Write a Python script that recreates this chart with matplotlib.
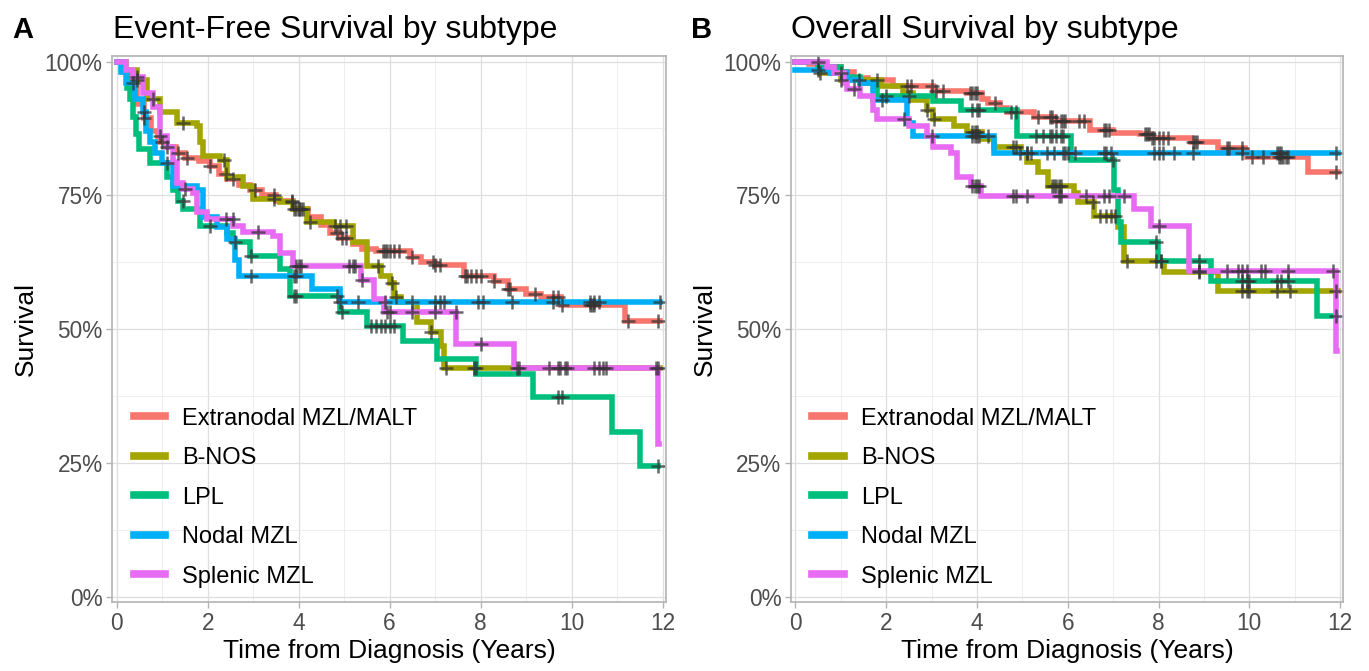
#!/usr/bin/env python3
"""
Kaplan-Meier style step curves: event-free and overall survival by subtype.
Values read off the reference figure (survival in %, time in years).
"""

import matplotlib
matplotlib.use('Agg')
import matplotlib.pyplot as plt
from matplotlib.ticker import MultipleLocator
import numpy as np

plt.rcParams['font.family'] = ['Liberation Sans', 'DejaVu Sans']

subtypes = ['Extranodal MZL/MALT', 'B-NOS', 'LPL', 'Nodal MZL', 'Splenic MZL']
colors = ['#F8766D', '#A3A500', '#00BF7D', '#00B0F6', '#E76BF3']

x_ticks = [0, 2, 4, 6, 8, 10, 12]
y_ticks = [0, 25, 50, 75, 100]
y_tick_labels = ['0%', '25%', '50%', '75%', '100%']

# ---- Event-free survival (panel A) ----
efs_extranodal_t = [0, 0.15, 0.3, 0.45, 0.6, 0.75, 0.9, 1.1, 1.3, 1.5, 1.8, 2.05, 2.25, 2.42, 2.7,
                    2.93, 3.2, 3.5, 3.88, 4.2, 4.5, 4.7, 4.92, 5.2, 5.4, 5.7, 6.45, 6.7, 7.0, 7.64,
                    8.3, 8.6, 9.0, 9.33, 9.77, 11.17, 11.95]
efs_extranodal_s = [100, 98, 95, 92, 89.5, 87, 85, 84, 83, 82, 81.5, 80.5, 79, 78, 77,
                    76, 75, 74, 72.5, 71, 69.5, 68, 67, 66, 65, 64.6, 63.5, 62.5, 62, 60,
                    59, 57.5, 56.5, 56, 54.5, 51.5, 51.5]
efs_extranodal_c = [0.6, 1.0, 1.35, 1.55, 2.05, 2.4, 2.55, 3.05, 3.45, 3.85, 3.95, 4.0, 4.05, 4.1,
                    4.85, 4.95, 5.05, 5.85, 5.9, 5.95, 6.0, 6.1, 6.2, 6.5, 6.95, 7.0, 7.1, 7.65,
                    7.7, 7.8, 7.9, 8.0, 8.3, 8.6, 8.65, 9.2, 9.6, 9.7, 9.8, 10.4, 10.45, 10.5,
                    11.25, 11.9]

efs_bnos_t = [0, 0.2, 0.44, 0.66, 0.95, 1.32, 1.76, 1.83, 1.9, 2.27, 2.42, 2.78, 3.0, 3.6, 3.88,
              4.19, 4.77, 5.2, 5.5, 5.8, 6.0, 6.1, 6.25, 6.6, 6.9, 7.13, 7.2, 11.95]
efs_bnos_s = [100, 98.5, 96.5, 93, 90.5, 88.6, 88, 85, 82.3, 81.7, 78.5, 76.7, 74.3, 73.7, 72.4,
              70, 69.2, 66.2, 61.8, 60, 58.7, 56, 55, 51.3, 49.4, 46.9, 42.7, 42.7]
efs_bnos_c = [0.45, 0.8, 1.45, 2.35, 3.45, 3.85, 3.9, 4.0, 4.25, 4.8, 4.9, 5.05, 5.75, 6.05,
              6.15, 6.5, 6.9, 7.25, 7.85, 7.9, 11.9]

efs_lpl_t = [0, 0.13, 0.22, 0.29, 0.35, 0.42, 0.5, 0.73, 1.1, 1.24, 1.35, 1.46, 1.83, 2.42, 2.56,
             2.93, 3.6, 3.82, 4.92, 5.5, 6.3, 7.05, 7.9, 9.15, 10.88, 11.5, 11.9]
efs_lpl_s = [100, 98.5, 95, 93, 89.7, 86.5, 83.6, 81, 78.5, 76, 74, 72.4, 69.2, 68, 66.2,
             63.6, 61.2, 56.2, 53.2, 50.5, 47.8, 44.4, 41.6, 37.3, 30.8, 24.5, 24.5]
efs_lpl_c = [1.45, 2.05, 2.6, 2.95, 3.9, 3.95, 4.85, 4.95, 5.6, 5.7, 5.8, 5.9, 6.0, 6.1,
             9.7, 9.8, 11.9]

efs_nodal_t = [0, 0.1, 0.2, 0.4, 0.57, 0.65, 0.73, 0.85, 1.0, 1.24, 1.76, 1.9, 2.2, 2.42, 2.6,
               2.7, 4.3, 4.9, 11.95]
efs_nodal_s = [100, 98, 96, 93, 90.5, 87, 85, 83, 81, 76.7, 76, 71, 69, 66.8, 63,
               60, 57.5, 55, 55]
efs_nodal_c = [0.35, 0.6, 1.1, 2.95, 3.9, 3.95, 4.9, 5.3, 5.9, 7.0, 7.1, 7.2, 7.95, 8.05,
               8.7, 9.6, 10.4, 10.5, 10.6, 11.95]

efs_splenic_t = [0, 0.2, 0.35, 0.57, 0.8, 0.95, 1.1, 1.24, 1.32, 1.46, 1.68, 1.76, 1.98, 2.56,
                 2.78, 3.44, 3.6, 3.88, 5.36, 5.65, 5.87, 7.46, 8.74, 11.9, 11.93]
efs_splenic_s = [100, 98.5, 97.2, 94.2, 91.6, 86, 84.1, 81.2, 77.4, 76.1, 75.5, 71.8, 70.5, 69.2,
                 68.1, 67.4, 64.3, 61.8, 59.2, 55.6, 53.2, 47.2, 42.8, 28.5, 28.5]
efs_splenic_c = [0.45, 0.95, 1.1, 1.5, 2.4, 2.55, 3.1, 3.95, 4.0, 4.05, 5.1, 5.2, 5.25, 5.4,
                 5.95, 6.0, 6.5, 7.0, 7.45, 8.0, 8.8, 8.85, 9.5, 9.7, 9.75, 9.85, 9.9, 10.5,
                 10.6, 10.7, 10.75, 11.85]

# ---- Overall survival (panel B) ----
os_extranodal_t = [0, 0.3, 0.6, 1.0, 1.3, 1.6, 2.16, 3.04, 3.79, 4.1, 4.24, 4.5, 4.67, 5.25, 5.7,
                   6.5, 7.0, 7.6, 7.83, 8.71, 9.3, 9.9, 9.95, 11.3, 11.95]
os_extranodal_s = [100, 99.5, 99, 98, 97, 96.5, 95.4, 94.5, 94.2, 93, 92.3, 91.3, 90.5, 89.7, 88.9,
                   87.3, 86.6, 86.4, 85.8, 84.9, 83.9, 83.2, 82.1, 79.3, 79.3]
os_extranodal_c = [2.45, 2.55, 3.0, 3.1, 3.25, 3.85, 3.9, 3.95, 4.0, 4.4, 4.75, 4.85, 5.35, 5.6,
                   5.65, 5.75, 5.85, 5.9, 5.95, 6.25, 6.35, 6.8, 6.85, 6.9, 7.7, 7.75, 7.8, 7.85,
                   7.9, 8.0, 8.1, 8.2, 8.75, 8.8, 8.85, 9.5, 9.55, 9.85, 10.05, 10.3, 10.65,
                   10.7, 10.75, 10.8, 10.85, 11.9]

os_bnos_t = [0, 0.55, 1.0, 1.88, 2.38, 2.6, 2.9, 3.04, 3.49, 3.79, 4.1, 4.37, 4.96, 5.11, 5.34,
             5.56, 6.13, 6.22, 6.57, 7.1, 7.24, 8.12, 9.3, 11.95]
os_bnos_s = [100, 97.9, 96.6, 95.5, 94.2, 92.9, 91, 89.2, 87.9, 86.8, 85.5, 84.1, 83, 81.2, 79.3,
             76.7, 75.5, 73.7, 71.1, 69, 62.7, 60.6, 57.1, 57.1]
os_bnos_c = [0.55, 1.0, 1.4, 1.8, 2.9, 3.05, 3.9, 3.95, 4.0, 4.8, 4.85, 5.1, 5.65, 5.7, 5.75,
             5.8, 5.85, 6.55, 6.7, 6.85, 6.95, 7.05, 7.3, 7.95, 8.05, 8.9, 9.85, 9.95, 10.0,
             10.6, 10.9, 11.9]

os_lpl_t = [0, 0.5, 1.0, 1.14, 1.43, 1.8, 3.04, 3.64, 4.89, 6.07, 7.02, 7.1, 7.17, 7.98, 9.15,
            11.5, 11.9]
os_lpl_s = [100, 99, 98, 97.2, 96, 93.5, 92.6, 91, 86.1, 81.7, 76, 70, 66.2, 62.7, 59,
            52.5, 52.5]
os_lpl_c = [2.0, 2.5, 3.9, 4.0, 4.05, 5.3, 5.45, 5.6, 5.65, 5.75, 5.85, 5.9, 7.0, 7.95, 8.05,
            8.9, 9.85, 9.95, 10.0, 10.6, 10.7, 10.85, 11.9]

os_nodal_t = [0, 0.77, 1.14, 1.43, 1.72, 2.46, 2.6, 4.37, 11.95]
os_nodal_s = [98.5, 97.9, 96.6, 96, 92.9, 88.6, 86, 83, 83]
os_nodal_c = [0.5, 1.9, 3.0, 3.9, 3.95, 4.0, 4.05, 4.25, 4.95, 5.1, 5.2, 5.55, 5.7, 5.9, 5.95,
              6.0, 6.15, 6.8, 6.85, 6.95, 7.9, 8.0, 8.1, 8.35, 8.75, 9.85, 10.6, 10.65, 10.7,
              11.9]

os_splenic_t = [0, 0.7, 0.84, 1.06, 1.14, 1.43, 1.72, 1.8, 2.5, 2.9, 3.04, 3.42, 3.57, 3.86,
                4.08, 7.46, 7.83, 8.67, 11.9, 11.93]
os_splenic_s = [100, 99, 97.9, 96, 94.8, 93.5, 91, 89.2, 87.9, 86, 84.1, 83, 78.5, 76.7,
                74.8, 72.4, 69.3, 60.9, 46, 46]
os_splenic_c = [0.5, 1.0, 1.3, 2.4, 3.9, 3.95, 4.0, 4.05, 4.8, 4.85, 5.1, 5.8, 5.85, 6.4, 6.8,
                6.9, 7.25, 8.0, 8.9, 9.5, 9.75, 9.85, 9.95, 10.25, 10.35, 10.85, 11.85]

efs_series = [
    (efs_extranodal_t, efs_extranodal_s, efs_extranodal_c),
    (efs_bnos_t, efs_bnos_s, efs_bnos_c),
    (efs_lpl_t, efs_lpl_s, efs_lpl_c),
    (efs_nodal_t, efs_nodal_s, efs_nodal_c),
    (efs_splenic_t, efs_splenic_s, efs_splenic_c),
]
os_series = [
    (os_extranodal_t, os_extranodal_s, os_extranodal_c),
    (os_bnos_t, os_bnos_s, os_bnos_c),
    (os_lpl_t, os_lpl_s, os_lpl_c),
    (os_nodal_t, os_nodal_s, os_nodal_c),
    (os_splenic_t, os_splenic_s, os_splenic_c),
]


def step_value(times, surv, t):
    """Survival at time t for a right-continuous step curve."""
    idx = np.searchsorted(np.asarray(times), t, side='right') - 1
    return np.asarray(surv)[np.clip(idx, 0, len(surv) - 1)]


def style_axes(ax):
    """Light ggplot-like theme."""
    ax.set_xlim(-0.097, 12.07)
    ax.set_ylim(-1.05, 101.1)
    ax.set_xticks(x_ticks)
    ax.set_yticks(y_ticks)
    ax.set_yticklabels(y_tick_labels)
    ax.xaxis.set_minor_locator(MultipleLocator(1))
    ax.yaxis.set_minor_locator(MultipleLocator(12.5))
    ax.grid(True, which='major', color='#DEDEDE', linewidth=0.9)
    ax.grid(True, which='minor', color='#EBEBEB', linewidth=0.6)
    ax.set_axisbelow(True)
    for sp in ax.spines.values():
        sp.set_color('#B3B3B3')
        sp.set_linewidth(1.2)
    ax.tick_params(which='major', length=4, width=1, color='#B3B3B3',
                   labelsize=16.3, labelcolor='#4D4D4D', pad=3)
    ax.tick_params(which='minor', length=0)
    ax.set_xlabel('Time from Diagnosis (Years)', fontsize=19, labelpad=3)
    ax.set_ylabel('Survival', fontsize=19, labelpad=5)


def draw_panel(ax, series):
    handles = []
    for (t, s, c), col, name in zip(series, colors, subtypes):
        line, = ax.plot(t, s, drawstyle='steps-post', color=col, linewidth=4.0,
                        solid_joinstyle='miter', label=name)
        handles.append(line)
    for (t, s, c) in series:
        ax.plot(c, step_value(t, s, c), linestyle='none', marker='+', markersize=10,
                markeredgewidth=1.8, color='#333333', alpha=0.75)
    style_axes(ax)
    leg = ax.legend(handles=handles, loc='lower left', bbox_to_anchor=(0.0, -0.012),
                    frameon=False, fontsize=17, handlelength=1.35, handletextpad=0.7,
                    labelspacing=0.74, borderaxespad=0.5)
    for h in leg.legend_handles:
        h.set_linewidth(5.5)


def main():
    fig = plt.figure(figsize=(13.69, 6.71), dpi=100)
    ax_a = fig.add_axes([0.0820, 0.1024, 0.4043, 0.8146])
    ax_b = fig.add_axes([0.5778, 0.1024, 0.4034, 0.8146])

    draw_panel(ax_a, efs_series)
    draw_panel(ax_b, os_series)

    fig.text(0.009, 0.943, 'A', fontsize=21, fontweight='bold', va='baseline')
    fig.text(0.0825, 0.943, 'Event-Free Survival by subtype', fontsize=23, va='baseline')
    fig.text(0.505, 0.943, 'B', fontsize=21, fontweight='bold', va='baseline')
    fig.text(0.578, 0.943, 'Overall Survival by subtype', fontsize=23, va='baseline')

    fig.savefig('out.png', dpi=100, facecolor='white')


if __name__ == '__main__':
    main()
